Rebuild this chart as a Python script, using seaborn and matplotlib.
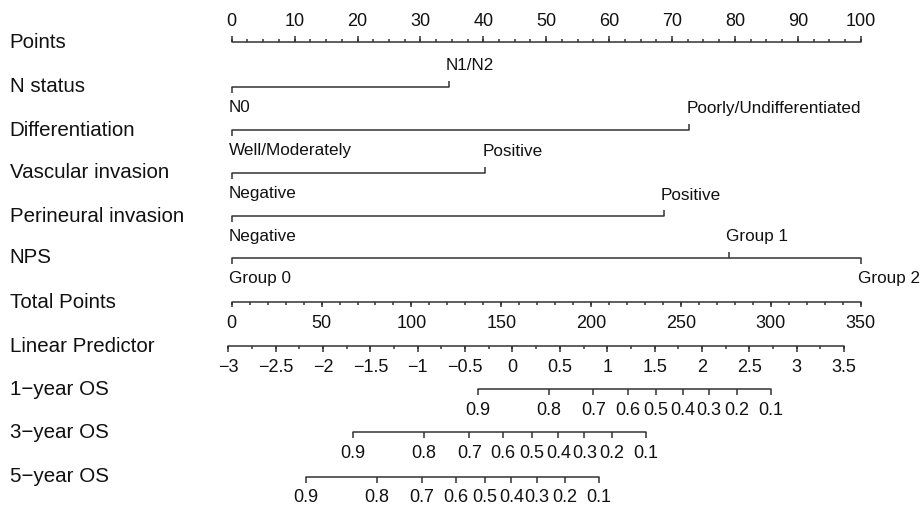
# Nomograma de supervivencia global (OS) a 1, 3 y 5 años
import seaborn as sns
import matplotlib.pyplot as plt
import numpy as np
import pandas as pd

# Puntos de cada nivel de las variables (escala 0-100)
n_status_levels = ["N0", "N1/N2"]
n_status_points = [0, 34.5]
diff_levels = ["Well/Moderately", "Poorly/Undifferentiated"]
diff_points = [0, 72.7]
vascular_levels = ["Negative", "Positive"]
vascular_points = [0, 40.3]
perineural_levels = ["Negative", "Positive"]
perineural_points = [0, 68.7]
nps_levels = ["Group 0", "Group 1", "Group 2"]
nps_points = [0, 79.0, 100]

row_names = ["Points", "N status", "Differentiation", "Vascular invasion",
             "Perineural invasion", "NPS", "Total Points", "Linear Predictor",
             "1\u2212year OS", "3\u2212year OS", "5\u2212year OS"]

points_ticks = [0, 10, 20, 30, 40, 50, 60, 70, 80, 90, 100]
total_ticks = [0, 50, 100, 150, 200, 250, 300, 350]
lp_ticks = [-3, -2.5, -2, -1.5, -1, -0.5, 0, 0.5, 1, 1.5, 2, 2.5, 3, 3.5]

# Probabilidades de supervivencia y su predictor lineal
os_probs = [0.9, 0.8, 0.7, 0.6, 0.5, 0.4, 0.3, 0.2, 0.1]
os_1y_lp = [-0.367, 0.383, 0.853, 1.217, 1.515, 1.795, 2.075, 2.367, 2.724]
os_3y_lp = [-1.687, -0.934, -0.456, -0.103, 0.203, 0.484, 0.758, 1.051, 1.410]
os_5y_lp = [-2.180, -1.430, -0.955, -0.599, -0.293, -0.012, 0.259, 0.552, 0.914]

# Conversión entre escalas
max_total = 350
lp_at_zero = -2.964
points_per_lp = 15.06


def tp_to_pts(v):
    return np.asarray(v, dtype=float) * 100 / max_total


def lp_to_pts(v):
    return (np.asarray(v, dtype=float) - lp_at_zero) * points_per_lp


sns.set_theme(style="white")
plt.rcParams["font.family"] = ["Liberation Sans", "DejaVu Sans"]

fig = plt.figure(figsize=(9.21, 5.08), dpi=100)
ax = fig.add_axes([0, 0, 1, 1])
ax.set_xlim(-231.7 / 6.29, (921 - 231.7) / 6.29)
ax.set_ylim(508, 0)
ax.axis("off")

line_col = "#333333"
txt_col = "#111111"
row_y = [42, 86.5, 130, 172.5, 216, 257.7, 302.3, 346, 389.3, 432.3, 476.7]
lab_fs = 14.8
tick_fs = 12.3
num_fs = 13

# nombres de las filas
for name, y in zip(row_names, row_y):
    ax.text(-35.3, y, name, fontsize=lab_fs, color=txt_col,
            ha="left", va="center")

# líneas horizontales de todas las escalas
segs = []
def add_seg(i, xs):
    segs.append(pd.DataFrame({"x": [min(xs), max(xs)],
                              "y": [row_y[i]] * 2, "row": i}))

add_seg(0, points_ticks)
variables = [(n_status_levels, n_status_points), (diff_levels, diff_points),
             (vascular_levels, vascular_points),
             (perineural_levels, perineural_points), (nps_levels, nps_points)]
for k, (levels, pts) in enumerate(variables):
    add_seg(k + 1, pts)
add_seg(6, tp_to_pts(total_ticks))
add_seg(7, lp_to_pts(lp_ticks))
for k, lp in enumerate([os_1y_lp, os_3y_lp, os_5y_lp]):
    add_seg(8 + k, lp_to_pts(lp))
seg_df = pd.concat(segs, ignore_index=True)
sns.lineplot(data=seg_df, x="x", y="y", units="row", estimator=None,
             color=line_col, lw=1.1, ax=ax, legend=False)
ax.set_xlabel("")
ax.set_ylabel("")

# Points: marcas hacia arriba
y = row_y[0]
ax.vlines(points_ticks, y - 6, y, color=line_col, lw=1.1)
ax.vlines(np.arange(0, 100.1, 2.5), y - 3, y, color=line_col, lw=1.1)
for v in points_ticks:
    ax.text(v, 21.5, f"{v}", fontsize=num_fs, color=txt_col,
            ha="center", va="center")

# variables categóricas
for k, (levels, pts) in enumerate(variables):
    y = row_y[k + 1]
    for j, (lev, p) in enumerate(zip(levels, pts)):
        d = 1 if j % 2 == 0 else -1
        ax.vlines(p, y, y + 6 * d, color=line_col, lw=1.1)
        ax.text(p - 0.45, y + 21 * d, lev, fontsize=tick_fs, color=txt_col,
                ha="left", va="center")

# Total Points
y = row_y[6]
ax.vlines(tp_to_pts(total_ticks), y, y + 5, color=line_col, lw=1.1)
ax.vlines(tp_to_pts(np.arange(0, 351, 10)), y, y + 3, color=line_col, lw=1.1)
for v in total_ticks:
    ax.text(tp_to_pts(v), y + 21, f"{v}", fontsize=num_fs, color=txt_col,
            ha="center", va="center")

# Linear Predictor
y = row_y[7]
ax.vlines(lp_to_pts(lp_ticks), y, y + 6, color=line_col, lw=1.1)
ax.vlines(lp_to_pts(np.arange(-3, 3.51, 0.25)), y, y + 3, color=line_col, lw=1.1)
for v in lp_ticks:
    ax.text(lp_to_pts(v), y + 21, f"{v:g}".replace("-", "\u2212"),
            fontsize=num_fs, color=txt_col, ha="center", va="center")

# escalas de supervivencia
for k, lp in enumerate([os_1y_lp, os_3y_lp, os_5y_lp]):
    y = row_y[8 + k]
    xs = lp_to_pts(lp)
    ax.vlines(xs, y, y + 6, color=line_col, lw=1.1)
    for p, x in zip(os_probs, xs):
        ax.text(x, y + 21, f"{p:g}", fontsize=num_fs, color=txt_col,
                ha="center", va="center")

fig.savefig("out.png", dpi=100)
